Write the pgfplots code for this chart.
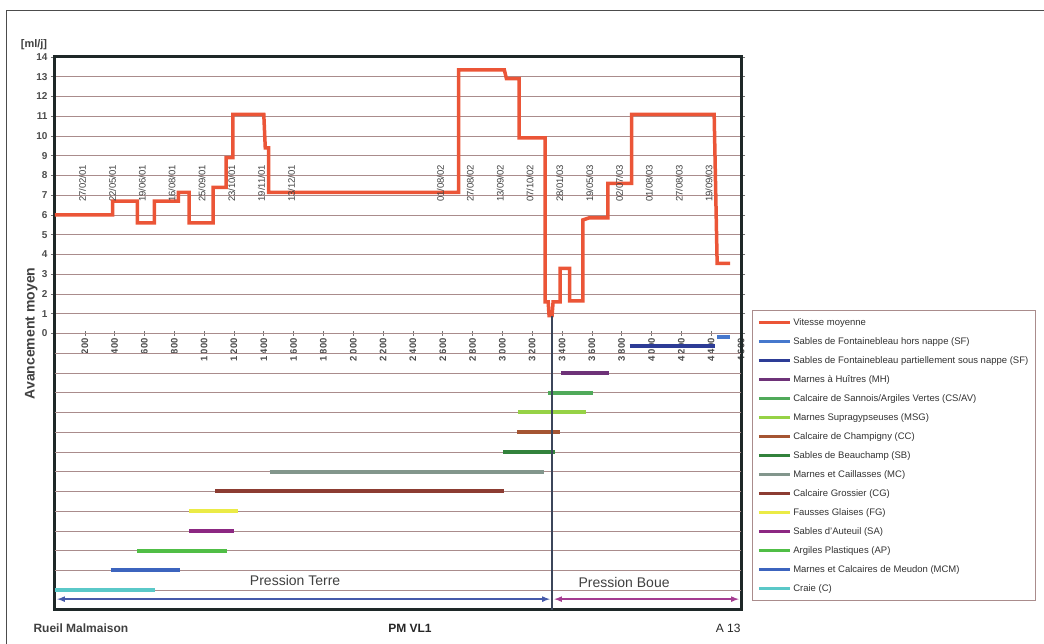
\documentclass[border=0pt]{standalone}
\usepackage{pgfplots}
\pgfplotsset{compat=1.18}
\usepackage{fontspec}
\setmainfont{Liberation Sans}

\definecolor{vit}{RGB}{235,85,55}
\definecolor{sfh}{RGB}{70,120,205}
\definecolor{sfp}{RGB}{45,60,150}
\definecolor{mh}{RGB}{110,50,120}
\definecolor{csav}{RGB}{80,170,90}
\definecolor{msg}{RGB}{150,210,70}
\definecolor{cc}{RGB}{165,85,50}
\definecolor{sb}{RGB}{50,130,60}
\definecolor{mc}{RGB}{130,150,140}
\definecolor{cg}{RGB}{140,60,50}
\definecolor{fg}{RGB}{235,235,70}
\definecolor{sa}{RGB}{140,40,130}
\definecolor{ap}{RGB}{80,190,70}
\definecolor{mcm}{RGB}{60,100,190}
\definecolor{craie}{RGB}{90,200,200}
\definecolor{gridc}{RGB}{170,140,140}
\definecolor{framec}{RGB}{30,40,40}
\definecolor{arrT}{RGB}{70,90,170}
\definecolor{arrB}{RGB}{165,60,145}
\definecolor{sep}{RGB}{60,70,90}

\tikzset{date/.style={rotate=90, font=\fontsize{9.5}{10}\selectfont, text=black!75}}

\begin{document}
\begin{tikzpicture}
  \path[use as bounding box] (-55pt,-34pt) rectangle (989pt,610pt);
  \draw[line width=1pt, black!70] (-48pt,-34pt) -- (-48pt,599pt) -- (989pt,599pt);

  % x tick labels sit on the zero line
  \begin{axis}[
      at={(0pt,0pt)}, anchor=south west,
      scale only axis, width=686pt, height=553pt,
      xmin=0, xmax=4600, ymin=-14, ymax=14,
      axis x line=middle, axis y line=none,
      x axis line style={draw=none},
      xtick={200,400,...,4600}, ytick=\empty,
      tick align=center, major tick length=5pt,
      tick style={black!55, line width=0.6pt},
      x tick label style={rotate=90, anchor=east, inner sep=2pt,
        font=\bfseries\fontsize{9.5}{10}\selectfont, text=black!70},
      /pgf/number format/assume math mode=true,
      /pgf/number format/1000 sep={\ },
    ]
  \end{axis}

  \begin{axis}[
      at={(0pt,0pt)}, anchor=south west,
      scale only axis, width=686pt, height=553pt,
      xmin=0, xmax=4600, ymin=-14, ymax=14,
      xtick=\empty, ytick={0,...,14},
      extra y ticks={-13,...,-1}, extra y tick labels={},
      extra y tick style={grid=major, major tick length=0pt},
      ymajorgrids, grid style={line width=0.9pt, gridc},
      axis line style={line width=3pt, framec},
      tick align=outside, major tick length=4pt,
      tick style={black!55, line width=0.6pt},
      y tick label style={font=\bfseries\fontsize{10}{10}\selectfont, text=black!70},
      /pgf/number format/assume math mode=true,
      ylabel={Avancement moyen}, ylabel shift=-12pt,
      ylabel style={font=\bfseries\fontsize{14}{14}\selectfont, text=black!75},
      legend style={at={(1.016,0.5425)}, anchor=north west, draw=gridc,
        line width=0.6pt, font=\fontsize{9.5}{10}\selectfont, text=black!80,
        row sep=6.6pt, inner xsep=5pt, inner ysep=6pt, cells={anchor=west}},
      legend image code/.code={\draw[#1, line width=3pt] (0pt,0pt) -- (31pt,0pt);},
    ]
    \addplot[vit, line width=3.5pt] coordinates {
      (0,6.0) (387,6.0) (387,6.7) (553,6.7) (553,5.6) (667,5.6) (667,6.7)
      (827,6.7) (827,7.15) (900,7.15) (900,5.6) (1060,5.6) (1060,7.4)
      (1147,7.4) (1147,8.9) (1193,8.9) (1193,11.1) (1400,11.1) (1410,9.4)
      (1433,9.4) (1433,7.15) (2707,7.15) (2707,13.35) (3013,13.35) (3027,12.9)
      (3113,12.9) (3113,9.9) (3287,9.9) (3287,1.6) (3307,1.6) (3313,0.9)
      (3333,0.9) (3340,1.6) (3387,1.6) (3387,3.3) (3450,3.3) (3450,1.65)
      (3540,1.65) (3540,5.75) (3580,5.85) (3707,5.85) (3707,7.6) (3867,7.6)
      (3867,11.1) (4420,11.1) (4440,3.55) (4527,3.55)};
    \addlegendentry{Vitesse moyenne}
    \addplot[sfh, line width=4pt] coordinates {(4440,-0.2) (4527,-0.2)};
    \addlegendentry{Sables de Fontainebleau hors nappe (SF)}
    \addplot[sfp, line width=4pt] coordinates {(3853,-0.65) (4427,-0.65)};
    \addlegendentry{Sables de Fontainebleau partiellement sous nappe (SF)}
    \addplot[mh, line width=4pt] coordinates {(3393,-2) (3713,-2)};
    \addlegendentry{Marnes à Huîtres (MH)}
    \addplot[csav, line width=4pt] coordinates {(3307,-3) (3607,-3)};
    \addlegendentry{Calcaire de Sannois/Argiles Vertes (CS/AV)}
    \addplot[msg, line width=4pt] coordinates {(3107,-4) (3560,-4)};
    \addlegendentry{Marnes Supragypseuses (MSG)}
    \addplot[cc, line width=4pt] coordinates {(3100,-5) (3387,-5)};
    \addlegendentry{Calcaire de Champigny (CC)}
    \addplot[sb, line width=4pt] coordinates {(3007,-6) (3353,-6)};
    \addlegendentry{Sables de Beauchamp (SB)}
    \addplot[mc, line width=4pt] coordinates {(1440,-7) (3280,-7)};
    \addlegendentry{Marnes et Caillasses (MC)}
    \addplot[cg, line width=4pt] coordinates {(1073,-8) (3013,-8)};
    \addlegendentry{Calcaire Grossier (CG)}
    \addplot[fg, line width=4pt] coordinates {(900,-9) (1227,-9)};
    \addlegendentry{Fausses Glaises (FG)}
    \addplot[sa, line width=4pt] coordinates {(900,-10) (1200,-10)};
    \addlegendentry{Sables d'Auteuil (SA)}
    \addplot[ap, line width=4pt] coordinates {(553,-11) (1153,-11)};
    \addlegendentry{Argiles Plastiques (AP)}
    \addplot[mcm, line width=4pt] coordinates {(373,-12) (840,-12)};
    \addlegendentry{Marnes et Calcaires de Meudon (MCM)}
    \addplot[craie, line width=4pt] coordinates {(0,-13) (673,-13)};
    \addlegendentry{Craie (C)}

    \addplot[sep, line width=1.3pt, forget plot] coordinates {(3333,0.9) (3333,-14)};
    \addplot[arrT, line width=1.6pt, <->, >=latex, forget plot] coordinates {(15,-13.45) (3318,-13.45)};
    \addplot[arrB, line width=1.6pt, <->, >=latex, forget plot] coordinates {(3348,-13.45) (4585,-13.45)};

    \node[font=\fontsize{14}{14}\selectfont, text=black!75] at (axis cs:1610,-12.5) {Pression Terre};
    \node[font=\fontsize{14}{14}\selectfont, text=black!75] at (axis cs:3816,-12.6) {Pression Boue};

    \node[date] at (axis cs:185,7.6) {27/02/01};
    \node[date] at (axis cs:385,7.6) {22/05/01};
    \node[date] at (axis cs:585,7.6) {19/06/01};
    \node[date] at (axis cs:785,7.6) {16/08/01};
    \node[date] at (axis cs:985,7.6) {25/09/01};
    \node[date] at (axis cs:1185,7.6) {23/10/01};
    \node[date] at (axis cs:1385,7.6) {19/11/01};
    \node[date] at (axis cs:1585,7.6) {13/12/01};
    \node[date] at (axis cs:2585,7.6) {01/08/02};
    \node[date] at (axis cs:2785,7.6) {27/08/02};
    \node[date] at (axis cs:2985,7.6) {13/09/02};
    \node[date] at (axis cs:3185,7.6) {07/10/02};
    \node[date] at (axis cs:3385,7.6) {28/01/03};
    \node[date] at (axis cs:3585,7.6) {19/05/03};
    \node[date] at (axis cs:3785,7.6) {02/07/03};
    \node[date] at (axis cs:3985,7.6) {01/08/03};
    \node[date] at (axis cs:4185,7.6) {27/08/03};
    \node[date] at (axis cs:4385,7.6) {19/09/03};
  \end{axis}

  \node[font=\bfseries\fontsize{11}{11}\selectfont, text=black!75] at (-21pt,565pt) {[ml/j]};
  \node[anchor=west, font=\bfseries\fontsize{12}{12}\selectfont, text=black!75] at (-25pt,-18pt) {Rueil Malmaison};
  \node[font=\bfseries\fontsize{12}{12}\selectfont, text=black!85] at (355pt,-18pt) {PM VL1};
  \node[anchor=east, font=\fontsize{12}{12}\selectfont, text=black!85] at (689pt,-18pt) {A 13};
\end{tikzpicture}
\end{document}
